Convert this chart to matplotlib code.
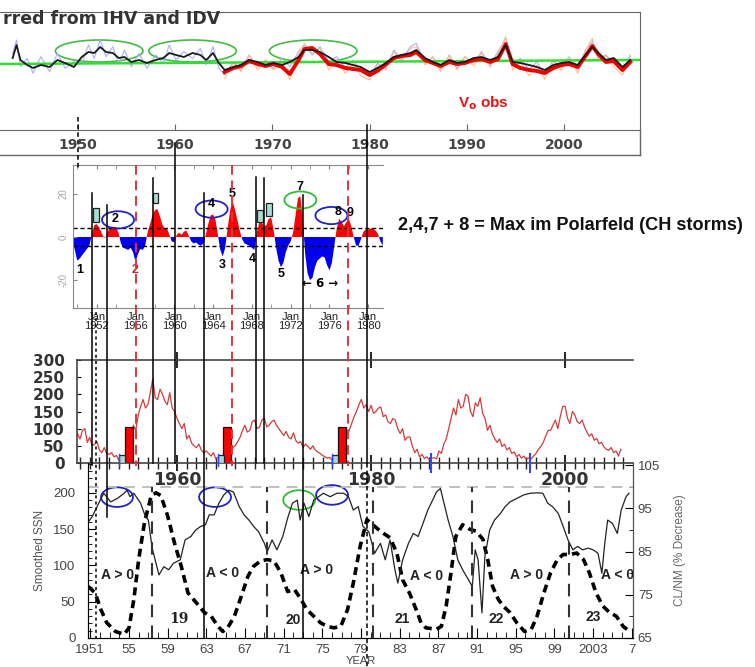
import numpy as np
import matplotlib.pyplot as plt
from matplotlib.patches import Ellipse, Rectangle
from matplotlib.lines import Line2D
from matplotlib import transforms

plt.rcParams['font.family'] = ['Liberation Sans', 'DejaVu Sans']

W, H = 755, 667

# ---------------- data ----------------
# top panel: solar wind speed inferred from IHV / IDV and observed
v_years = [1943.3, 1943.7, 1944.1, 1944.8, 1945.4, 1946.2, 1947.1, 1947.9, 1948.7, 1949.6,
           1950.4, 1951.1, 1951.7, 1952.3, 1952.9, 1953.6, 1954.2, 1954.8, 1955.5, 1956.3,
           1957.1, 1958.0, 1958.8, 1959.4, 1960.1, 1960.9, 1961.8, 1962.6, 1963.2, 1963.9,
           1964.5, 1965.1, 1966.0, 1966.8, 1967.6, 1968.5, 1969.3, 1970.1, 1971.0, 1971.8,
           1972.7, 1973.3, 1974.1, 1974.9, 1975.8, 1976.6, 1977.5, 1978.3, 1979.1, 1980.0,
           1980.8, 1981.7, 1982.5, 1983.3, 1984.2, 1984.8, 1985.7, 1986.5, 1987.3, 1988.2,
           1989.0, 1989.8, 1990.7, 1991.5, 1992.4, 1993.2, 1994.0, 1994.7, 1995.5, 1996.4,
           1997.2, 1998.0, 1998.9, 1999.7, 2000.5, 2001.4, 2002.2, 2002.9, 2003.5, 2004.3,
           2005.1, 2006.0, 2006.8]
v_ihv = [516, 555, 510, 495, 486, 495, 489, 510, 501, 489,
         519, 534, 531, 549, 534, 531, 516, 519, 504, 510,
         501, 510, 516, 531, 525, 519, 531, 525, 510, 531,
         501, 480, 489, 495, 510, 504, 495, 501, 495, 504,
         519, 540, 540, 534, 519, 504, 501, 495, 489, 474,
         486, 501, 519, 525, 531, 540, 516, 504, 495, 510,
         501, 504, 516, 519, 510, 519, 555, 504, 501, 495,
         489, 480, 495, 501, 504, 495, 525, 549, 531, 510,
         516, 489, 510]
ihv_raw = [530, 570, 490, 515, 470, 520, 475, 530, 485, 505,
           500, 555, 515, 570, 520, 550, 500, 540, 490, 530,
           485, 525, 500, 555, 510, 535, 515, 545, 495, 550,
           485, 465, 505, 480, 525, 490, 510, 485, 515, 490,
           535, 555, 525, 550, 505, 520, 485, 510, 475, 460,
           500, 485, 540, 510, 550, 560, 500, 520, 480, 525,
           485, 520, 500, 535, 495, 535, 575, 490, 515, 480,
           505, 465, 510, 485, 520, 480, 540, 565, 515, 525,
           500, 475, 525]
obs_years = v_years[31:]
v_obs = [474, 486, 492, 507, 498, 492, 498, 489, 468,
         510, 543, 546, 528, 498, 495, 486, 483, 480, 465,
         477, 498, 516, 522, 525, 534, 510, 501, 492, 504,
         498, 501, 510, 513, 504, 513, 558, 498, 486, 480,
         477, 471, 486, 495, 498, 489, 522, 552, 528, 504,
         507, 480, 504]
obs_raw = [455, 500, 475, 525, 480, 510, 480, 505, 450,
           530, 560, 530, 545, 480, 510, 470, 500, 462, 450,
           495, 480, 535, 505, 545, 550, 495, 518, 475, 522,
           480, 520, 492, 530, 488, 530, 580, 480, 505, 462,
           495, 452, 505, 478, 518, 470, 540, 575, 510, 522,
           490, 465, 520]
trend_years = [1942.0, 2007.8]
trend_vals = [498, 510]
top_ticks = [1950, 1960, 1970, 1980, 1990, 2000]
top_circles = [1952.2, 1961.8, 1974.2]

# polar field panel (quarter-year samples)
pf_years = np.arange(1949.5, 1981.75, 0.25)
pf_vals = np.array([
    -1, -6,
    -11, -10, -8.5, -7, -5.5, -4, 1, 5.5, 6, 4.5, 2, -0.5, 0.5, 3.5, 4.5, 4.8,
    4.5, 2, -3, -5, -5.5, -6, -5, -7, -11.5, -8, -5.5, -6, -4, 2, 6, 10,
    12.5, 13, 10, 6, 4, 4, 1, -2, -2.5, 1, 2, 1, 2.5, 3, 0.5, -2,
    -3, -2.5, -3.5, -4, -3, 1, 6, 10, 10.5, 8, 1, -6, -9, -5, 4, 12,
    17, 13, 8, 3, -1, -3, -3.5, -4, -5, -6, 2, 6.5, 7, 5, 5.5, 8.5,
    9, 3, -5, -11, -14, -12, -7, -4, -2, 2, 10, 18, 19, 8, -8, -17,
    -20, -19, -14, -11, -10, -9, -9.5, -13, -15.5, -12, -4, 4, 8.5, 7, 5, 7,
    8.5, 5, 0, -4, -4, -1, 2.5, 3.5, 3.5, 4, 4, 3,
    1.5, -2, -4])
pf_ticks = [1952, 1956, 1960, 1964, 1968, 1972, 1976, 1980]
pf_boxes_x = [1951.65, 1957.8, 1968.56, 1969.5]
pf_boxes_y = [7.1, 16.0, 7.1, 9.8]
pf_boxes_h = [6.2, 4.3, 5.5, 5.9]
pf_circles = [(1954.2, 8.0, '#2222cc'), (1963.85, 13.0, '#2222cc'),
              (1973.0, 17.2, '#33bb33'), (1976.2, 10.0, '#2222cc')]
pf_labels = [('1', 1950.3, -15.5, 'black'), ('2', 1953.9, 8.5, 'black'),
             ('2', 1956.0, -15.5, '#cc2222'), ('4', 1963.8, 15.5, 'black'),
             ('5', 1966.0, 20.0, 'black'), ('3', 1964.9, -13.0, 'black'),
             ('4', 1968.0, -10.0, 'black'), ('5', 1971.0, -17.0, 'black'),
             ('7', 1973.0, 23.4, 'black'), ('8', 1976.9, 11.5, 'black'),
             ('9', 1978.1, 11.0, 'black')]

# monthly-ish sunspot number (quarter-year samples)
ssn_years = np.arange(1949.5, 2006.0, 0.25)
ssn_vals = [105, 85,
            70, 95, 100, 60, 75, 50, 55, 62, 38, 30, 45, 28, 25, 30, 18, 22,
            8, 12, 3, 6, 30, 60, 110, 95, 140, 165, 185, 160, 170, 205, 245, 190,
            185, 215, 200, 180, 170, 205, 160, 150, 130, 115, 100, 115, 70, 80, 58, 50,
            45, 55, 38, 30, 35, 28, 20, 30, 12, 15, 8, 10, 15, 25, 30, 45,
            50, 62, 75, 95, 110, 90, 95, 120, 125, 100, 105, 125, 130, 105, 110, 120,
            125, 110, 100, 90, 80, 92, 75, 70, 88, 65, 58, 62, 45, 55, 48, 40,
            50, 38, 32, 28, 22, 18, 14, 16, 8, 14, 12, 20, 30, 50, 75, 95,
            115, 135, 150, 170, 185, 160, 170, 150, 168, 145, 150, 160, 163, 135, 140, 120,
            115, 130, 125, 100, 86, 100, 66, 75, 76, 50, 30, 40, 18, 25, 13, 18,
            10, 14, 15, 12, 35, 28, 55, 70, 100, 130, 160, 140, 185, 160, 165, 200,
            195, 150, 135, 175, 165, 190, 145, 130, 95, 110, 85, 70, 60, 70, 48, 55,
            38, 45, 28, 32, 18, 25, 14, 20, 10, 15, 12, 20, 28, 40, 48, 60,
            78, 95, 95, 110, 125, 100, 135, 165, 165, 130, 115, 150, 140, 120, 115, 125,
            105, 90, 78, 85, 66, 72, 56, 60, 47, 40, 37, 45, 30, 35, 20, 40]
bar_years = [1954.64, 1964.74, 1976.6]
bar_height = 105
cyan_years = [1954.0, 1964.2, 1976.0]
cyan_height = 22
blue_marks = [1986.2, 1996.4]

# smoothed SSN and Climax neutron monitor
sm_years = [1950.8, 1951.5, 1952.1, 1952.7, 1953.6, 1954.5, 1955.0, 1955.5, 1956.0, 1956.6,
            1957.3, 1957.8, 1958.3, 1959.0, 1959.7, 1960.4, 1961.1, 1962.0, 1962.8, 1963.5,
            1964.2, 1964.7, 1965.2, 1965.9, 1966.6, 1967.3, 1967.9, 1968.6, 1969.3, 1970.0,
            1970.7, 1971.4, 1972.1, 1972.8, 1973.4, 1974.1, 1974.8, 1975.5, 1976.2, 1976.9,
            1977.6, 1978.2, 1978.9, 1979.6, 1981.0, 1982.0, 1982.7, 1983.3, 1984.0, 1984.7,
            1985.2, 1985.7, 1986.8, 1987.3, 1987.8, 1988.3, 1988.8, 1989.5, 1990.2, 1990.9,
            1991.6, 1992.1, 1992.6, 1993.2, 1993.7, 1994.4, 1995.1, 1995.9, 1996.6, 1997.2,
            1997.9, 1998.6, 1999.3, 1999.9, 2000.6, 2001.3, 2002.0, 2002.6, 2003.3, 2004.0,
            2004.7, 2005.4, 2006.1, 2006.8]
sm_ssn = [71, 62, 39, 21, 9, 5, 14, 53, 108, 159,
          196, 200, 196, 168, 131, 99, 62, 48, 35, 30,
          16, 9, 14, 30, 57, 85, 99, 106, 108, 106,
          90, 64, 67, 53, 39, 30, 21, 16, 14, 16,
          39, 76, 126, 163, 147, 138, 117, 80, 62, 39,
          21, 14, 12, 16, 44, 90, 140, 156, 150, 147,
          136, 108, 71, 53, 44, 35, 21, 9, 12, 30,
          62, 90, 108, 115, 115, 117, 108, 90, 62, 44,
          35, 30, 16, 9]
nm_years = [1950.8, 1951.2, 1951.7, 1952.1, 1952.4, 1953.1, 1953.8, 1954.5, 1954.8, 1955.1,
            1955.5, 1956.2, 1956.7, 1957.0, 1957.4, 1957.7, 1958.1, 1958.6, 1959.1, 1959.6,
            1960.3, 1960.8, 1961.4, 1961.9, 1962.4, 1962.9, 1963.3, 1963.8, 1964.3, 1964.8,
            1965.3, 1965.8, 1966.4, 1966.9, 1967.4, 1967.9, 1968.4, 1969.0, 1969.3, 1969.8,
            1970.3, 1970.9, 1971.4, 1971.9, 1972.4, 1972.7, 1973.1, 1973.6, 1974.1, 1974.6,
            1975.1, 1975.8, 1976.5, 1977.2, 1977.7, 1978.2, 1978.7, 1979.2, 1979.8, 1980.4,
            1981.0, 1981.5, 1982.0, 1982.5, 1982.8, 1983.3, 1983.9, 1984.4, 1984.9, 1985.4,
            1985.9, 1986.4, 1986.8, 1987.2, 1987.5, 1988.0, 1988.5, 1989.0, 1989.5, 1990.1,
            1990.5, 1990.8, 1991.1, 1991.5, 1991.8, 1992.3, 1992.8, 1993.4, 1993.9, 1994.4,
            1995.1, 1995.8, 1996.5, 1997.2, 1997.8, 1998.3, 1998.8, 1999.4, 1999.9, 2000.4,
            2000.9, 2001.4, 2001.9, 2002.5, 2003.0, 2003.5, 2003.9, 2004.2, 2004.5, 2005.0,
            2005.5, 2005.9, 2006.4, 2006.7]
nm_vals = [91.9, 93.1, 95.4, 97.3, 98.5, 96.5, 97.3, 98.5, 99.2, 97.7,
           98.5, 96.2, 93.1, 92.3, 85.8, 83.1, 79.6, 81.5, 80.8, 82.3,
           83.1, 87.7, 88.5, 90.0, 90.8, 91.2, 93.5, 93.5, 96.2, 98.1,
           99.2, 98.8, 95.4, 93.5, 92.3, 90.8, 89.6, 86.9, 85.0, 87.7,
           85.4, 88.5, 92.7, 96.2, 96.9, 92.3, 96.2, 93.1, 96.9, 97.7,
           98.5, 97.7, 98.5, 98.5, 97.7, 94.6, 95.4, 90.8, 89.6, 84.6,
           86.9, 83.1, 87.7, 80.8, 77.7, 83.1, 86.9, 89.2, 88.5, 91.5,
           94.6, 96.9, 98.8, 99.6, 96.9, 92.3, 88.5, 83.1, 80.8, 78.5,
           76.9, 85.4, 83.1, 70.8, 83.8, 90.0, 92.3, 93.8, 95.4, 96.5,
           97.3, 98.1, 98.5, 98.6, 98.5, 96.2, 95.4, 93.8, 90.8, 87.7,
           85.4, 86.2, 85.4, 85.8, 85.4, 84.6, 80.0, 86.9, 92.3, 91.5,
           89.2, 94.6, 97.7, 98.5]
bot_ticks = [1951, 1955, 1959, 1963, 1967, 1971, 1975, 1979, 1983, 1987, 1991, 1995,
             1999, 2003, 2007]
bot_ticklabels = ['1951', '55', '59', '63', '67', '71', '75', '79', '83', '87', '91', '95',
                  '99', '2003', '7']
reversals = [1957.4, 1969.3, 1980.2, 1990.5, 2000.5]
polarity = [('A > 0', 1953.8, 87), ('A < 0', 1964.7, 90), ('A > 0', 1974.4, 94),
            ('A < 0', 1985.8, 86), ('A > 0', 1996.1, 87), ('A < 0', 2005.5, 87)]
cycles = [('19', 1960.2, 26), ('20', 1972.0, 25), ('21', 1983.2, 26),
          ('22', 1993.0, 26), ('23', 2003.0, 29)]
bot_circles = [(1953.76, 194, '#2222cc'), (1963.9, 194, '#2222cc'),
               (1972.6, 190, '#33bb33'), (1976.0, 197, '#2222cc')]

# vertical marker lines across panels (x in polar-panel years)
link_years = [1951.52, 1953.06, 1956.05, 1957.80, 1960.07, 1963.06, 1965.95,
              1968.43, 1969.25, 1973.27, 1977.90, 1979.90, 1979.90, 1951.97]
link_style = ['k', 'k', 'r', 'k', 'k', 'k', 'r', 'k', 'k', 'k', 'r', 'k', 'd', 'o']
link_top = [193, 205, 165, 178, 143, 193, 165, 177, 178, 195, 165, 125, 463, 312]
link_bot = [465, 517, 466, 463, 463, 638, 466, 463, 463, 638, 466, 463, 667, 640]


def box(l, t, r, b):
    return [l / W, 1 - b / H, (r - l) / W, (b - t) / H]


def fy(y):
    return 1 - y / H


fig = plt.figure(figsize=(W / 100, H / 100), dpi=100)

# ---------------- top panel ----------------
ax_top = fig.add_axes(box(0, 12, 640, 130))
ax_top.set_xlim(1942.0, 2007.8)
ax_top.set_ylim(300, 654)
ax_top.plot(v_years, ihv_raw, color='#a9b0ff', lw=0.8)
ax_top.plot(obs_years, obs_raw, color='#ffbf8f', lw=0.8)
ax_top.plot(trend_years, trend_vals, color='#33dd33', lw=1.8)
ax_top.plot(obs_years, v_obs, color='#ee0000', lw=2.8)
ax_top.plot(v_years, v_ihv, color='#1a1a1a', lw=1.3)
for cx in top_circles:
    ax_top.add_patch(Ellipse((cx, 537), 9.0, 66, fill=False, ec='#44bb44', lw=1.2))
ax_top.text(0.005, 0.94, 'rred from IHV and IDV', transform=ax_top.transAxes,
            fontsize=12.5, fontweight='bold', color='#333333', va='center', ha='left',
            family='DejaVu Sans')
ax_top.text(0.755, 0.23, r'V$_{\mathbf{o}}$ obs', transform=ax_top.transAxes,
            fontsize=11, fontweight='bold', color='#ee1111', ha='center', va='center')
ax_top.spines['left'].set_visible(False)
for s in ['top', 'right', 'bottom']:
    ax_top.spines[s].set_color('#666666')
ax_top.set_yticks([])
ax_top.set_xticks(top_ticks)
ax_top.tick_params(axis='x', direction='in', length=4, pad=6, labelsize=10,
                   labelcolor='#444444', color='#666666')
for lab in ax_top.get_xticklabels():
    lab.set_fontweight('bold')
    lab.set_family('DejaVu Sans')
fig.add_artist(Line2D([0, 640 / W], [fy(155), fy(155)], color='#666666', lw=1))
fig.add_artist(Line2D([640 / W, 640 / W], [fy(130), fy(155)], color='#666666', lw=1))
top_x = transforms.blended_transform_factory(ax_top.transData, fig.transFigure)
fig.add_artist(Line2D([1950, 1950], [fy(117), fy(170)], transform=top_x, color='black',
                      lw=1.1, dashes=(3, 2)))

# ---------------- polar field panel ----------------
ax_pol = fig.add_axes(box(73, 165, 383, 308))
ax_pol.set_xlim(1949.56, 1981.52)
ax_pol.set_ylim(-33, 33.5)
ax_pol.fill_between(pf_years, pf_vals, 0, where=pf_vals >= 0, color='#ff0000',
                    interpolate=True, lw=0)
ax_pol.fill_between(pf_years, pf_vals, 0, where=pf_vals <= 0, color='#0000ee',
                    interpolate=True, lw=0)
ax_pol.axhline(4, color='black', lw=1, dashes=(3, 2))
ax_pol.axhline(-4, color='black', lw=1, dashes=(3, 2))
for bx, by, bh in zip(pf_boxes_x, pf_boxes_y, pf_boxes_h):
    ax_pol.add_patch(Rectangle((bx, by), 0.55, bh, fc='#a8dcd6', ec='#222222', lw=0.9,
                               zorder=4))
for cx, cy, col in pf_circles:
    ax_pol.add_patch(Ellipse((cx, cy), 3.3, 8.0, fill=False, ec=col, lw=1.3, zorder=5))
for txt, x, y, col in pf_labels:
    ax_pol.text(x, y, txt, color=col, fontsize=9, fontweight='bold', ha='center',
                va='center', zorder=6)
ax_pol.text(1975.0, -21.8, '\u2190 6 \u2192', fontsize=8.5, fontweight='bold',
            family='DejaVu Sans', ha='center', va='center')
ax_pol.spines['right'].set_visible(False)
for s in ['top', 'left', 'bottom']:
    ax_pol.spines[s].set_color('#888888')
ax_pol.set_xticks(pf_ticks)
ax_pol.set_xticklabels(['Jan\n%d' % y for y in pf_ticks])
ax_pol.set_xticks(np.arange(1950, 1982, 2), minor=True)
ax_pol.tick_params(axis='x', which='both', direction='in', top=True, length=3,
                   color='#888888', labelsize=8, pad=3, labelcolor='#222222')
ax_pol.set_yticks([-20, 0, 20])
ax_pol.set_yticklabels(['-20', '0', '20'], rotation=90, va='center')
ax_pol.tick_params(axis='y', direction='in', length=3, color='#888888', labelsize=7,
                   labelcolor='#aaaaaa', pad=3)
for lab in ax_pol.get_xticklabels():
    lab.set_linespacing(0.9)

# ---------------- sunspot number panel ----------------
ax_ssn = fig.add_axes(box(77, 360, 633, 463))
ax_ssn.set_facecolor('none')
ax_ssn.set_xlim(1949.69, 2007.0)
ax_ssn.set_ylim(0, 300)
ax_ssn.plot(ssn_years, ssn_vals, color='#d43c3c', lw=0.9)
for bx in bar_years:
    ax_ssn.add_patch(Rectangle((bx, 0), 0.85, bar_height, fc='#ff0000', ec='#111111',
                               lw=0.9, zorder=4))
for cx in cyan_years:
    ax_ssn.add_patch(Rectangle((cx, 0), 0.6, cyan_height, fc='#a8dcd6', ec='#222222',
                               lw=0.9, zorder=4))
    ax_ssn.plot([cx, cx], [-8, 25], color='#3344ff', lw=1, clip_on=False, zorder=5)
for bx in blue_marks:
    ax_ssn.plot([bx, bx], [-25, 25], color='#3344ff', lw=1.5, clip_on=False, zorder=5)
ax_ssn.spines['right'].set_visible(False)
for s in ['top', 'left', 'bottom']:
    ax_ssn.spines[s].set_color('#444444')
    ax_ssn.spines[s].set_linewidth(1.2)
ax_ssn.set_yticks(np.arange(0, 301, 50))
ax_ssn.tick_params(axis='y', direction='in', length=3, labelsize=11, labelcolor='#333333',
                   pad=9)
for lab in ax_ssn.get_yticklabels():
    lab.set_fontweight('bold')
    lab.set_family('DejaVu Sans')
ax_ssn.set_xticks([1960, 1980, 2000])
ax_ssn.set_xticks(np.arange(1950, 2007, 1), minor=True)
ax_ssn.tick_params(axis='x', which='major', direction='inout', length=12, width=1.2,
                   top=True, labelsize=12.5, labelcolor='#333333', pad=0)
ax_ssn.tick_params(axis='x', which='minor', direction='inout', length=8, width=1,
                   color='#222222')
for lab in ax_ssn.get_xticklabels():
    lab.set_fontweight('bold')
    lab.set_family('DejaVu Sans')

# ---------------- cosmic ray / smoothed SSN panel ----------------
ax_bot = fig.add_axes(box(88, 463, 633, 638))
ax_bot.set_facecolor('none')
ax_bot.set_xlim(1950.76, 2007.12)
ax_bot.set_ylim(0, 241)
ax_bot.plot(sm_years, sm_ssn, color='black', lw=2.6, dashes=(2.2, 1.4))
ax_r = ax_bot.twinx()
ax_r.set_ylim(65, 105.5)
ax_r.plot(nm_years, nm_vals, color='#222222', lw=0.9)
ax_r.axhline(100, color='#bbbbbb', lw=1.3, dashes=(6, 4))
for rx in reversals:
    ax_r.plot([rx, rx], [65, 100], color='#333333', lw=1.5, dashes=(6, 4))
for txt, x, y in polarity:
    ax_bot.text(x, y, txt, fontsize=10, fontweight='bold', color='#222222',
                ha='center', va='center')
for txt, x, y in cycles:
    ax_bot.text(x, y, txt, fontsize=10, fontweight='bold', color='#222222',
                ha='center', va='center',
                family='DejaVu Serif' if txt == '19' else None)
for cx, cy, col in bot_circles:
    ax_bot.add_patch(Ellipse((cx, cy), 3.3, 27, fill=False, ec=col, lw=1.3, zorder=5))
ax_bot.spines['top'].set_visible(False)
ax_r.spines['top'].set_visible(False)
ax_bot.spines['left'].set_color('#555555')
ax_bot.spines['bottom'].set_color('#555555')
ax_r.spines['right'].set_color('#555555')
ax_bot.set_xticks(bot_ticks)
ax_bot.set_xticklabels(bot_ticklabels)
ax_bot.set_xticks(np.arange(1951, 2008, 1), minor=True)
ax_bot.tick_params(axis='x', which='major', direction='in', length=7, labelsize=9.5,
                   labelcolor='#444444', pad=4)
ax_bot.tick_params(axis='x', which='minor', direction='in', length=4)
ax_bot.set_yticks(np.arange(0, 201, 50))
ax_bot.set_yticks(np.arange(0, 241, 10), minor=True)
ax_bot.tick_params(axis='y', which='major', direction='in', length=6, labelsize=9.5,
                   labelcolor='#444444', pad=9)
ax_bot.tick_params(axis='y', which='minor', direction='in', length=3)
ax_r.set_yticks(np.arange(65, 106, 10))
ax_r.set_yticks(np.arange(65, 106, 5), minor=True)
ax_r.tick_params(axis='y', which='major', direction='in', length=6, labelsize=9.5,
                 labelcolor='#444444')
ax_r.tick_params(axis='y', which='minor', direction='in', length=3)
ax_bot.set_ylabel('Smoothed SSN', fontsize=8.5, color='#555555', labelpad=5)
ax_r.set_ylabel('CL/NM (% Decrease)', fontsize=8.5, color='#666666', labelpad=10)
ax_bot.set_xlabel('YEAR', fontsize=8, color='#444444', labelpad=0)

# ---------------- marker lines linking the panels ----------------
pol_x = transforms.blended_transform_factory(ax_pol.transData, fig.transFigure)
for yr, st, t, b in zip(link_years, link_style, link_top, link_bot):
    if st == 'r':
        kw = dict(color='#e8333a', lw=1.4, dashes=(5, 3))
    elif st == 'd':
        kw = dict(color='black', lw=1.1, dashes=(3, 2))
    elif st == 'o':
        kw = dict(color='black', lw=1.1, dashes=(2, 2))
    else:
        kw = dict(color='black', lw=1.1)
    fig.add_artist(Line2D([yr, yr], [fy(t), fy(b)], transform=pol_x, zorder=10, **kw))

fig.text(398 / W, fy(225), '2,4,7 + 8 = Max im Polarfeld (CH storms)', fontsize=13.1,
         fontweight='bold', color='#111111', ha='left', va='center')

fig.savefig('out.png', dpi=100)
